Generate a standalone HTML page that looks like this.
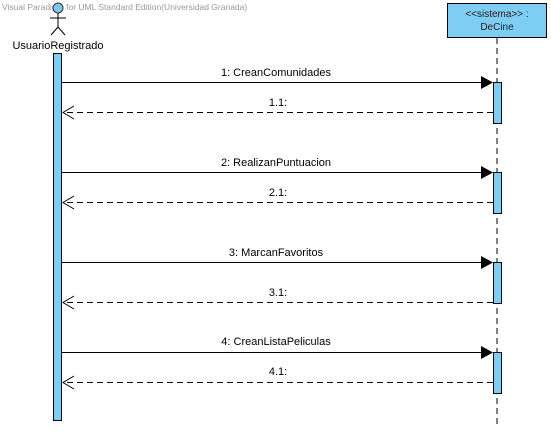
<!DOCTYPE html>
<html><head><style>
body{margin:0;background:#fff;}
svg text{font-family:"Liberation Sans",sans-serif;}
</style></head><body>
<svg width="551" height="426" xmlns="http://www.w3.org/2000/svg">
<text x="2" y="10" font-size="8.5" fill="#999">Visual Paradigm for UML Standard Edition(Universidad Granada)</text>
<circle cx="58" cy="8" r="5" fill="#7ec8e8" stroke="#333" stroke-width="1"/>
<line x1="58" y1="13" x2="58" y2="27" stroke="#000"/>
<line x1="50" y1="18" x2="66" y2="18" stroke="#000"/>
<line x1="58" y1="27" x2="51" y2="35" stroke="#000"/>
<line x1="58" y1="27" x2="65" y2="35" stroke="#000"/>
<text x="58" y="49" font-size="11" text-anchor="middle" fill="#000">UsuarioRegistrado</text>
<rect x="53.5" y="53.5" width="8" height="367" fill="#7ecdf3" stroke="#000"/>
<rect x="447.5" y="3.5" width="99" height="34" fill="#7ecdf3" stroke="#000"/>
<text x="497" y="17" font-size="10" text-anchor="middle" fill="#222">&lt;&lt;sistema&gt;&gt; :</text>
<text x="497" y="30" font-size="10" text-anchor="middle" fill="#222">DeCine</text>
<line x1="497" y1="38" x2="497" y2="426" stroke="#000" stroke-dasharray="6,4"/>
<g fill="#7ecdf3" stroke="#000">
<rect x="493.5" y="82.5" width="8" height="41"/>
<rect x="493.5" y="172.5" width="8" height="41"/>
<rect x="493.5" y="262.5" width="8" height="41"/>
<rect x="493.5" y="352.5" width="8" height="41"/>
</g>
<g font-size="11" text-anchor="middle" fill="#000">
<text x="276" y="76">1: CreanComunidades</text>
<text x="278" y="106">1.1:</text>
<text x="276" y="166">2: RealizanPuntuacion</text>
<text x="278" y="196">2.1:</text>
<text x="276" y="256">3: MarcanFavoritos</text>
<text x="278" y="296">3.1:</text>
<text x="276" y="345">4: CreanListaPeliculas</text>
<text x="278" y="375">4.1:</text>
</g>
<g stroke="#000" fill="none">
<line x1="62" y1="82.5" x2="482" y2="82.5"/>
<line x1="62" y1="172.5" x2="482" y2="172.5"/>
<line x1="62" y1="262.5" x2="482" y2="262.5"/>
<line x1="62" y1="352.5" x2="482" y2="352.5"/>
<g stroke-dasharray="6,4">
<line x1="493" y1="112.5" x2="63" y2="112.5"/>
<line x1="493" y1="202.5" x2="63" y2="202.5"/>
<line x1="493" y1="302.5" x2="63" y2="302.5"/>
<line x1="493" y1="382.5" x2="63" y2="382.5"/>
</g>
<polyline points="74,106 63,112.5 74,119"/>
<polyline points="74,196 63,202.5 74,209"/>
<polyline points="74,296 63,302.5 74,309"/>
<polyline points="74,376 63,382.5 74,389"/>
</g>
<g fill="#000">
<polygon points="481,76 493,82.5 481,89"/>
<polygon points="481,166 493,172.5 481,179"/>
<polygon points="481,256 493,262.5 481,269"/>
<polygon points="481,346 493,352.5 481,359"/>
</g>
</svg>
</body></html>
